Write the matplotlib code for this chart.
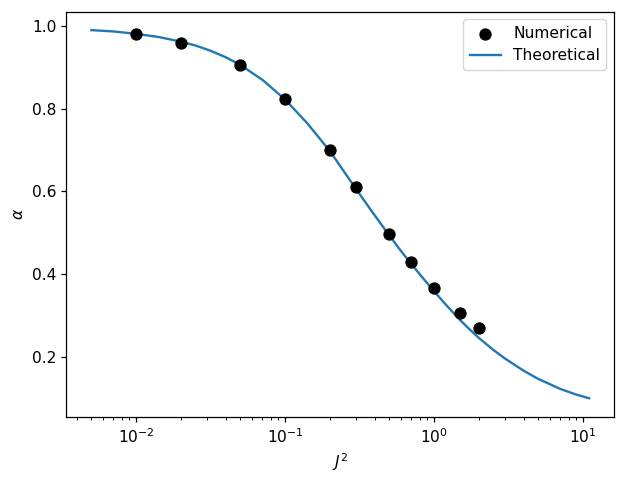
import matplotlib
matplotlib.use("Agg")
import matplotlib.pyplot as plt

# Numerical data points
num_j2 = [0.01, 0.02, 0.05, 0.1, 0.2, 0.3, 0.5, 0.7, 1.0, 1.5, 2.0]
num_alpha = [0.980, 0.960, 0.906, 0.823, 0.699, 0.610, 0.496, 0.428, 0.366, 0.305, 0.268]

# Theoretical curve
th_j2 = [0.005, 0.00708, 0.01, 0.01413, 0.02, 0.0251, 0.0316, 0.0398, 0.05, 0.0708,
         0.1, 0.1413, 0.2, 0.2455, 0.3, 0.389, 0.5, 0.592, 0.7, 0.837,
         1.0, 1.225, 1.5, 1.732, 2.0, 2.5, 3.0, 4.0, 5.0, 7.0, 9.0, 11.0]
th_alpha = [0.990, 0.9867, 0.981, 0.9734, 0.962, 0.9526, 0.940, 0.9246, 0.906, 0.869,
            0.822, 0.764, 0.697, 0.6505, 0.605, 0.5475, 0.4935, 0.458, 0.425, 0.391,
            0.358, 0.322, 0.288, 0.2658, 0.245, 0.2161, 0.195, 0.1656, 0.146, 0.122, 0.108, 0.099]

plt.rcParams.update({
    "font.size": 11.2,
    "axes.linewidth": 0.9,
    "xtick.major.size": 3.9, "ytick.major.size": 3.9,
    "xtick.minor.size": 2.2, "ytick.minor.size": 2.2,
    "xtick.major.width": 0.9, "ytick.major.width": 0.9,
    "xtick.minor.width": 0.7, "ytick.minor.width": 0.7,
})

fig = plt.figure(figsize=(6.23, 4.80), dpi=100)
ax = fig.add_axes([0.1067, 0.1319, 0.8789, 0.8437])
ax.scatter(num_j2, num_alpha, color="black", s=62, label="Numerical", zorder=3)
ax.plot(th_j2, th_alpha, color="#1f77b4", lw=1.7, label="Theoretical")
ax.set_xscale("log")
ax.set_xlabel("$J^2$")
ax.set_ylabel(r"$\alpha$")
ax.legend(loc="upper right")
fig.savefig("out.png", dpi=100)
